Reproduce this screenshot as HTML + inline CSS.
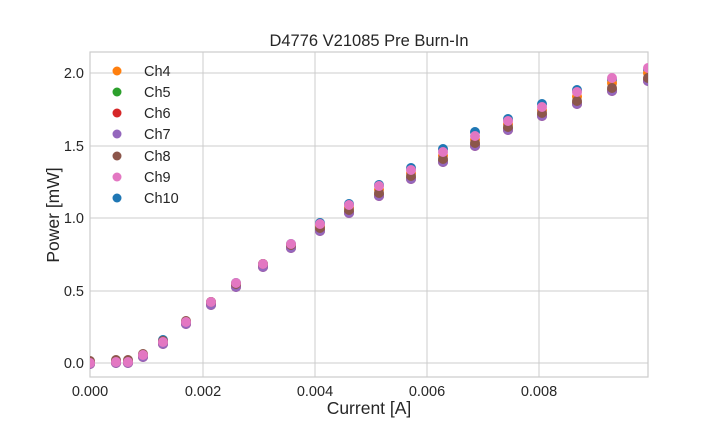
<!DOCTYPE html><html><head><style>body{margin:0;background:#fff}svg{display:block}text{font-family:"Liberation Sans",sans-serif;fill:#262626}</style></head><body>
<svg id="s" width="720" height="432" xmlns="http://www.w3.org/2000/svg">
<rect x="0" y="0" width="720" height="432" fill="#fff"/>
<g stroke="#cccccc" stroke-width="1">
<line x1="203" y1="52" x2="203" y2="377"/><line x1="315" y1="52" x2="315" y2="377"/><line x1="427" y1="52" x2="427" y2="377"/><line x1="539" y1="52" x2="539" y2="377"/>
<line x1="90" y1="363" x2="648" y2="363"/><line x1="90" y1="291" x2="648" y2="291"/><line x1="90" y1="218" x2="648" y2="218"/><line x1="90" y1="146" x2="648" y2="146"/><line x1="90" y1="73" x2="648" y2="73"/>
</g>
<rect x="90" y="52" width="558" height="325" fill="none" stroke="#cccccc" stroke-width="1.2"/>
<g id="pts"></g>
<g font-size="14.5" text-anchor="middle">
<text x="90" y="396">0.000</text><text x="203" y="396">0.002</text><text x="315" y="396">0.004</text><text x="427" y="396">0.006</text><text x="539" y="396">0.008</text>
</g>
<g font-size="14.5" text-anchor="end">
<text x="84" y="368">0.0</text><text x="84" y="296">0.5</text><text x="84" y="223">1.0</text><text x="84" y="151">1.5</text><text x="84" y="78">2.0</text>
</g>
<text x="369" y="46" font-size="16.5" text-anchor="middle">D4776 V21085 Pre Burn-In</text>
<text x="369" y="414" font-size="17.5" text-anchor="middle">Current [A]</text>
<text x="0" y="0" font-size="17.5" text-anchor="middle" transform="translate(59,215) rotate(-90)">Power [mW]</text>
<g id="leg" font-size="14.5"></g>
</svg>
<script>
var C={b:'#1f77b4',o:'#ff7f0e',g:'#2ca02c',r:'#d62728',p:'#9467bd',br:'#8c564b',pk:'#e377c2'};
var d=[[90,363,363,363],[116,362,362,362],[128,362,362,362],[143,355,355,356],[163,340,342,343],[186,322,322,323],[211,302,302,304],[236,283,283,286],[263,264,264,266],[291,244,244,247],[320,223,224,230],[349,204,205,212],[379,185,186,195],[411,168,170,178],[443,149,152,161],[475,132,136,145],[508,119,121,129],[542,104,107,115],[577,90,92,103],[612,80,78,90],[648,70,68,80]];
var h='<defs><clipPath id="c"><rect x="90" y="52" width="558" height="325"/></clipPath></defs><g clip-path="url(#c)">';
function c(x,y,f){h+='<circle cx="'+x+'" cy="'+y+'" r="5" fill="'+f+'"/>';}
d.forEach(function(p){var x=p[0],b=p[1],k=p[2],l=p[3];
c(x,b,C.b);c(x,(k+l)/2-1,C.o);c(x,l,C.g);c(x,l+1,C.r);c(x,l+1,C.p);c(x,l-2,C.br);c(x,k,C.pk);});
h+='</g>';
document.getElementById('pts').outerHTML=h;
var L=[['Ch4',C.o],['Ch5',C.g],['Ch6',C.r],['Ch7',C.p],['Ch8',C.br],['Ch9',C.pk],['Ch10',C.b]],ys=[71,92,113,134,156,177,198],g='';
L.forEach(function(e,i){g+='<circle cx="117" cy="'+ys[i]+'" r="4.5" fill="'+e[1]+'"/><text x="144" y="'+(ys[i]+5)+'">'+e[0]+'</text>';});
document.getElementById('leg').innerHTML=g;
</script>
</body></html>
